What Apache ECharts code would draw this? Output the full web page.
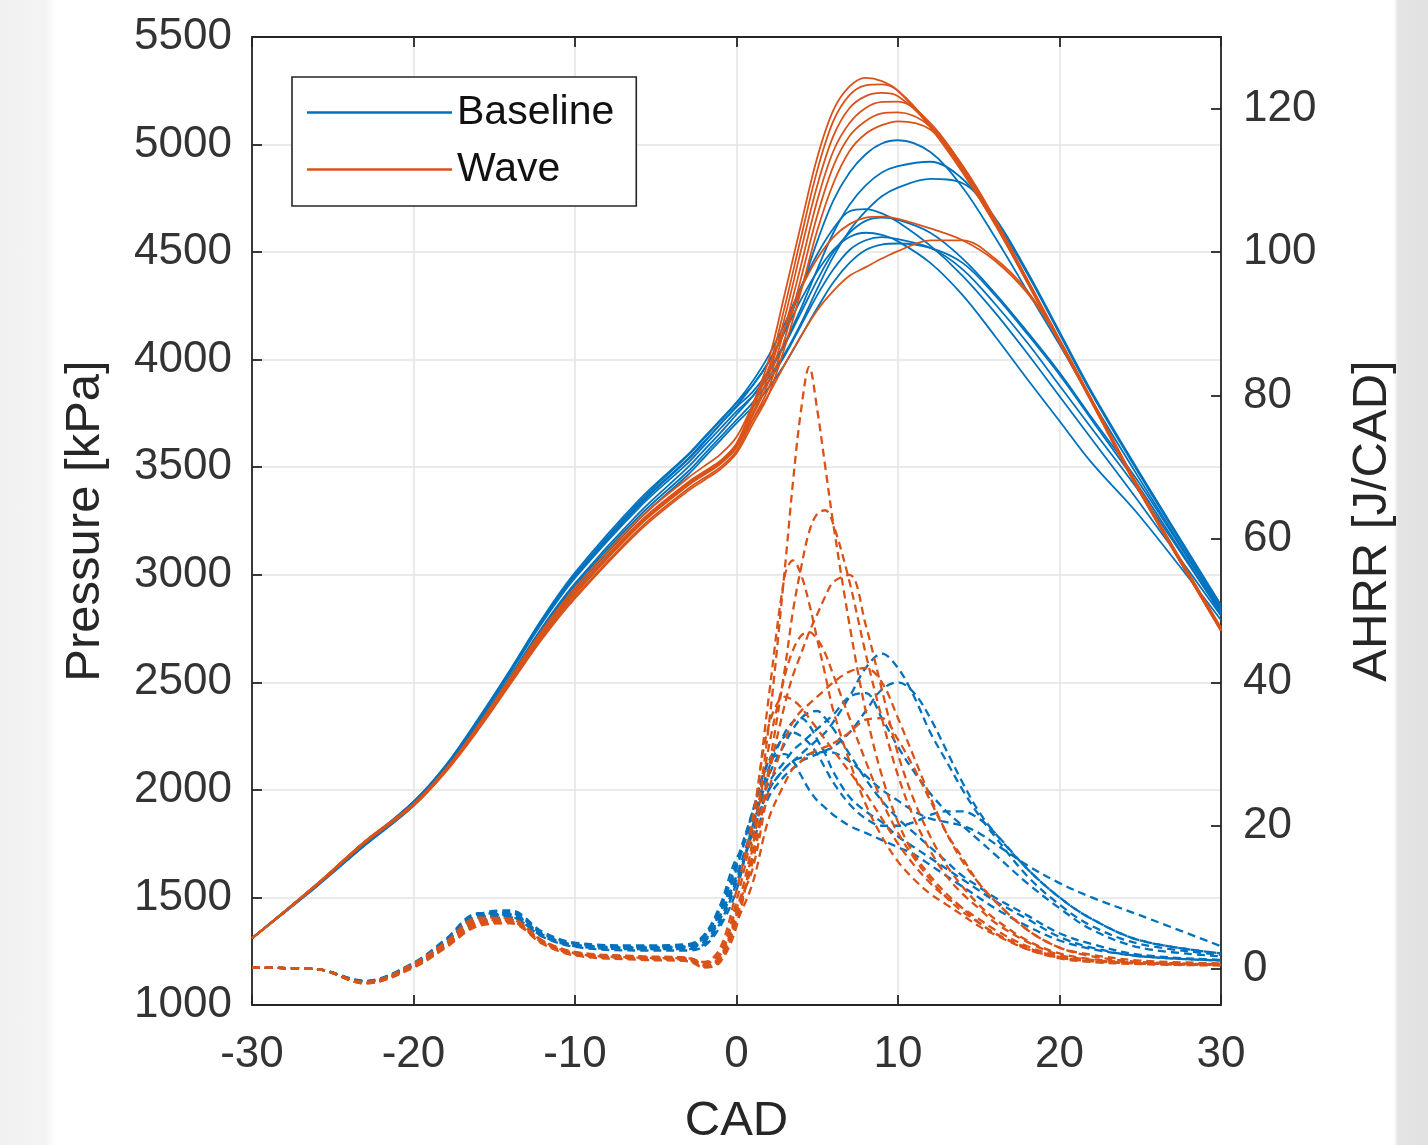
<!DOCTYPE html>
<html>
<head>
<meta charset="utf-8">
<script src="https://cdn.jsdelivr.net/npm/echarts@6/dist/echarts.min.js"></script>
<style>
html,body{margin:0;padding:0;}
body{width:1428px;height:1145px;background:linear-gradient(to right,#f1f1f1 0px,#f4f4f4 46px,#ffffff 56px,#ffffff 1394px,#e4e4e4 1398px,#e2e2e2 1428px);}
#chart{width:1428px;height:1145px;}
</style>
</head>
<body>
<div id="chart"></div>
<script>
// Crank angle sample points (degrees)
const CAD_P = [-30,-26,-23,-20,-18,-16,-14,-12,-10,-6,-3,-2,-1,0,1,2,3,4,5,6,7,8,9,10,12,14,16,18,20,22,25,30];
const CAD_H = [-30,-26,-23,-20,-18,-16,-14,-12,-10,-6,-3,-2,-1,0,1,2,3,3.5,4,4.5,5,5.5,6,7,8,9,10,11,12,13,14,15,16,18,20,22,25,30];

// Cylinder pressure [kPa], baseline cycles
const basePressure = [
  [1310,1560,1755,1945,2115,2330,2560,2800,3010,3350,3560,3640,3720,3800,3880,3990,4140,4330,4550,4740,4870,4955,5005,5020,4965,4800,4570,4320,4070,3810,3440,2840],
  [1310,1558,1752,1940,2110,2322,2552,2790,2995,3330,3540,3620,3700,3780,3850,3950,4080,4240,4420,4590,4720,4810,4870,4900,4920,4840,4650,4400,4120,3840,3460,2850],
  [1310,1555,1750,1938,2105,2315,2545,2780,2985,3315,3520,3600,3680,3760,3830,3920,4030,4170,4330,4480,4600,4690,4760,4800,4840,4820,4660,4410,4130,3850,3470,2860],
  [1310,1560,1755,1945,2112,2325,2555,2795,3000,3340,3555,3635,3715,3800,3900,4020,4170,4340,4490,4610,4690,4700,4680,4640,4530,4390,4220,4030,3830,3630,3330,2810],
  [1310,1555,1748,1935,2100,2305,2530,2760,2960,3290,3500,3580,3660,3745,3830,3940,4070,4220,4370,4500,4590,4645,4660,4650,4590,4470,4310,4130,3940,3730,3420,2830],
  [1310,1557,1752,1940,2108,2320,2550,2788,2992,3325,3535,3615,3700,3785,3880,3990,4130,4280,4410,4510,4570,4590,4580,4550,4450,4300,4110,3910,3715,3520,3270,2790],
  [1310,1553,1745,1930,2095,2300,2520,2750,2950,3275,3480,3560,3640,3720,3800,3900,4020,4160,4300,4420,4510,4555,4570,4560,4520,4420,4260,4080,3880,3680,3380,2820],
  [1310,1550,1742,1925,2090,2292,2510,2735,2935,3260,3465,3545,3625,3705,3780,3870,3980,4110,4240,4360,4450,4510,4535,4540,4520,4450,4300,4120,3930,3720,3400,2820]
];
// Cylinder pressure [kPa], wave cycles
const wavePressure = [
  [1310,1562,1762,1935,2095,2295,2515,2735,2925,3245,3430,3480,3530,3610,3790,4000,4310,4630,4940,5160,5270,5310,5295,5250,5080,4870,4630,4360,4080,3800,3380,2740],
  [1310,1560,1760,1932,2092,2292,2512,2730,2920,3240,3425,3475,3525,3600,3770,3960,4250,4570,4880,5110,5230,5275,5280,5250,5090,4880,4630,4360,4080,3800,3380,2745],
  [1310,1558,1758,1930,2090,2288,2505,2722,2910,3230,3415,3465,3515,3590,3750,3930,4200,4510,4810,5040,5170,5225,5240,5225,5090,4890,4640,4370,4090,3810,3385,2740],
  [1310,1560,1760,1933,2093,2290,2508,2725,2915,3235,3420,3470,3520,3595,3740,3900,4150,4440,4740,4970,5100,5170,5198,5200,5100,4900,4650,4370,4090,3810,3390,2745],
  [1310,1556,1755,1928,2086,2282,2498,2712,2898,3215,3400,3450,3500,3575,3720,3870,4100,4380,4670,4900,5040,5110,5145,5150,5085,4900,4650,4370,4090,3810,3390,2750],
  [1310,1555,1754,1926,2084,2278,2492,2705,2890,3205,3390,3440,3490,3565,3700,3840,4060,4320,4600,4820,4970,5050,5090,5108,5070,4900,4655,4375,4095,3815,3395,2755],
  [1310,1561,1762,1936,2098,2300,2522,2745,2940,3262,3450,3505,3560,3640,3790,3960,4150,4330,4470,4570,4630,4660,4665,4655,4610,4555,4460,4310,4090,3810,3385,2740],
  [1310,1557,1756,1930,2090,2288,2506,2724,2912,3232,3418,3470,3525,3600,3720,3840,3980,4110,4230,4320,4390,4430,4470,4505,4555,4555,4470,4320,4090,3810,3390,2745]
];
// Apparent heat release rate [J/CAD], baseline cycles
const baseAHRR = [
  [0.2,0,-1.7,0.6,3.8,7.6,8.0,5.0,3.6,3.2,3.4,4.6,8.5,14.5,21,28,33,34.5,35,34,32,30,27.5,24,22,20.5,18.5,17,15.5,14,12.5,11,9.5,7,4.5,3,1.8,1.2],
  [0.2,0,-1.8,0.4,3.4,7.0,7.6,4.8,3.4,3.0,3.1,4.0,7.5,13,20,27,31.5,33.5,35,35.8,36,35,33.5,30,26.5,23.5,21,19,17,15,13,11.5,10,7.5,5,3.5,2,1.3],
  [0.2,0,-1.6,0.9,4.2,7.8,7.4,4.6,3.2,2.8,2.8,3.5,6.5,12,19,25,28,29,30,31,32,33,34.5,38,42,44,42,38,33,29,25,21.5,18.5,13,9,6,3.5,2],
  [0.2,0,-1.7,0.7,4.0,7.6,8.2,5.2,3.7,3.3,3.5,4.8,9,15.5,18,24,27,28,29,29.5,30,30.5,31,33,36,39,40,38.5,35,30.5,26,22,19,14,10,7,4,2.2],
  [0.2,0,-1.9,0.3,3.2,6.6,7.2,4.5,3.1,2.6,2.6,3.2,6,11,20,26,29,30.5,31.5,32.5,33.5,34.5,35.5,38,38.5,35,31,27.5,24.5,22,20,18,16,12,8.5,5.5,3,1.8],
  [0.2,0,-1.7,0.8,4.0,7.7,7.8,4.9,3.5,3.0,3.2,4.4,8,14,22,29,32.5,33,32.5,31.5,30,28,26,23,21,20,20,20.5,21.5,22,22,21,19,14,10,7,4,2.2],
  [0.2,0,-1.8,0.5,3.6,7.2,7.4,4.6,3.3,2.8,2.9,3.8,7,12.5,19,25,28,29,29.5,30,30.2,30.3,30.2,29,27,25,23.5,22,21,20.5,20,19,17.5,14.5,12,10,7.5,3.2],
  [0.2,0,-1.7,0.6,3.8,7.4,7.7,4.8,3.4,3.1,3.3,4.5,8.5,15,22,29,30,29,27,25,23.5,22.5,21.5,20,19,18,17,16,14.5,13,11.5,10,8.5,6,4,2.8,1.8,1.2]
];
// Apparent heat release rate [J/CAD], wave cycles
const waveAHRR = [
  [0.2,0,-1.9,0.5,3.4,6.6,6.8,3.8,2.2,1.6,1.4,0.6,1.8,8,18,34,56,68,78,84,78,70,62,48,36,27,20.5,16,13,10.5,8.5,6.5,5,2.8,1.5,1,0.7,0.5],
  [0.2,0,-2.0,0.3,3.1,6.2,6.6,3.6,2.0,1.4,1.2,0.4,1.4,7,16,28,42,50,56,61,63.5,64,62,54,44,35,27,21,16.5,13,10.5,8.5,6.5,3.8,2,1.3,0.8,0.6],
  [0.2,0,-1.9,0.6,3.6,6.8,7.0,4.0,2.4,1.8,1.6,0.9,2.4,9.5,20,38,55,57,55,51,46,41,36,29,23,18.5,15,12.5,10.5,9,7.5,6,4.8,2.8,1.6,1.1,0.8,0.6],
  [0.2,0,-1.8,0.7,3.7,6.9,6.7,3.7,2.1,1.5,1.3,0.5,1.6,7.5,15,27,37,41,44,47,49.5,52,54,55,48,39,30,23.5,18.5,14.5,11.5,9,7,4,2.2,1.4,0.9,0.6],
  [0.2,0,-2.0,0.2,3.0,6.0,6.4,3.5,1.9,1.3,1.1,0.2,1.0,6,17,31,41,44.5,46.5,47,46,44,41,35,29,23.5,19,15.5,12.5,10,8,6.5,5,3,1.7,1.1,0.8,0.6],
  [0.2,0,-1.9,0.5,3.3,6.5,6.9,3.9,2.3,1.7,1.5,0.8,2.0,8.5,14,25,32,34.5,36,37,38,39,40,41.5,42,40,35,29.5,24,19,15,12,9.5,5.5,3,1.8,1,0.7],
  [0.2,0,-1.8,0.8,3.8,7.2,7.0,3.9,2.2,1.6,1.5,1.0,3.0,11,21,34,38,37.5,36.5,35,33.5,32,30.5,27.5,24.5,21,17.5,14.5,12,10,8.5,7,5.5,3.2,1.8,1.2,0.8,0.6],
  [0.2,0,-1.9,0.4,3.2,6.4,6.6,3.7,2.1,1.5,1.3,0.3,1.2,6.5,12,21,26,28,29,30,30.5,31,31.5,33,34.8,35,32,28,23.5,19,15.5,12,9.5,5.5,3,2,1.2,0.8]
];

const X_TICKS = [-30,-20,-10,0,10,20,30];
const LEFT_TICKS = [1000,1500,2000,2500,3000,3500,4000,4500,5000,5500];
const RIGHT_TICKS = [0,20,40,60,80,100,120];

const BLUE = '#0072BD';
const ORANGE = '#D95319';
const AX = '#262626';
const LBL = '#333333';
const FONT = '"Liberation Sans", Arial, Helvetica, sans-serif';
const plain = function (v) { return String(v); };

const series = [];
function addSeries(name, xs, rows, color, yIdx, dashed) {
  rows.forEach(function (row) {
    series.push({
      type: 'line',
      name: name,
      xAxisIndex: 0,
      yAxisIndex: yIdx,
      data: xs.map(function (x, i) { return [x, row[i]]; }),
      symbol: 'none',
      showSymbol: false,
      smooth: 0.35,
      clip: true,
      z: dashed ? 2 : 3,
      lineStyle: dashed ? { color: color, width: 2.3, type: [8, 5] } : { color: color, width: 1.8 },
      itemStyle: { color: color },
      emphasis: { disabled: true }
    });
  });
}
addSeries('Baseline', CAD_P, basePressure, BLUE, 0, false);
addSeries('Wave', CAD_P, wavePressure, ORANGE, 0, false);
addSeries('Baseline HR', CAD_H, baseAHRR, BLUE, 1, true);
addSeries('Wave HR', CAD_H, waveAHRR, ORANGE, 1, true);

const chart = echarts.init(document.getElementById('chart'), null, { renderer: 'canvas' });
chart.setOption({
  animation: false,
  backgroundColor: 'transparent',
  textStyle: { fontFamily: FONT },
  grid: { left: 252, right: 207, top: 37, bottom: 140, containLabel: false, outerBoundsMode: 'none' },
  legend: {
    data: [
      { name: 'Baseline', icon: 'rect', itemStyle: { color: BLUE } },
      { name: 'Wave', icon: 'rect', itemStyle: { color: ORANGE } }
    ],
    orient: 'vertical',
    left: 292, top: 77,
    padding: [15, 22, 16, 15],
    itemGap: 16,
    itemWidth: 145,
    itemHeight: 2.5,
    backgroundColor: '#ffffff',
    borderColor: AX,
    borderWidth: 1.6,
    borderRadius: 0,
    textStyle: { fontSize: 41, color: '#111', fontFamily: FONT },
    selectedMode: false
  },
  xAxis: [
    {
      type: 'value', position: 'bottom', min: -30, max: 30, interval: 10,
      name: 'CAD', nameLocation: 'middle', nameGap: 92,
      nameTextStyle: { fontSize: 49, color: AX, fontFamily: FONT },
      axisLine: { show: true, onZero: false, lineStyle: { color: AX, width: 1.8 } },
      axisTick: { show: true, inside: true, length: 10, lineStyle: { color: AX, width: 1.8 } },
      axisLabel: { show: true, margin: 28, fontSize: 44, color: LBL, fontFamily: FONT,
        customValues: X_TICKS, formatter: plain },
      splitLine: { show: true, lineStyle: { color: '#e3e3e3', width: 1.5 } }
    },
    {
      type: 'value', position: 'top', min: -30, max: 30, interval: 10,
      axisLine: { show: true, onZero: false, lineStyle: { color: AX, width: 1.8 } },
      axisTick: { show: true, inside: true, length: 10, lineStyle: { color: AX, width: 1.8 } },
      axisLabel: { show: false },
      splitLine: { show: false }
    }
  ],
  yAxis: [
    {
      type: 'value', position: 'left', min: 1000, max: 5500, interval: 500,
      name: 'Pressure [kPa]', nameLocation: 'middle', nameGap: 142, nameRotate: 90,
      nameTextStyle: { fontSize: 49, color: AX, fontFamily: FONT },
      axisLine: { show: true, onZero: false, lineStyle: { color: AX, width: 1.8 } },
      axisTick: { show: true, inside: true, length: 10, lineStyle: { color: AX, width: 1.8 } },
      axisLabel: { show: true, margin: 20, fontSize: 44, color: LBL, fontFamily: FONT,
        customValues: LEFT_TICKS, formatter: plain, verticalAlign: 'middle', padding: [6, 0, 0, 0] },
      splitLine: { show: true, lineStyle: { color: '#e3e3e3', width: 1.5 } }
    },
    {
      type: 'value', position: 'right', min: -5, max: 130,
      name: 'AHRR [J/CAD]', nameLocation: 'middle', nameGap: 127, nameRotate: 90,
      nameTextStyle: { fontSize: 49, color: AX, fontFamily: FONT },
      axisLine: { show: true, onZero: false, lineStyle: { color: AX, width: 1.8 } },
      axisTick: { show: true, inside: true, length: 10, lineStyle: { color: AX, width: 1.8 },
        customValues: RIGHT_TICKS },
      axisLabel: { show: true, margin: 22, fontSize: 44, color: LBL, fontFamily: FONT,
        customValues: RIGHT_TICKS, formatter: plain, verticalAlign: 'middle', padding: [6, 0, 0, 0] },
      splitLine: { show: false }
    }
  ],
  series: series
});
</script>
</body>
</html>
